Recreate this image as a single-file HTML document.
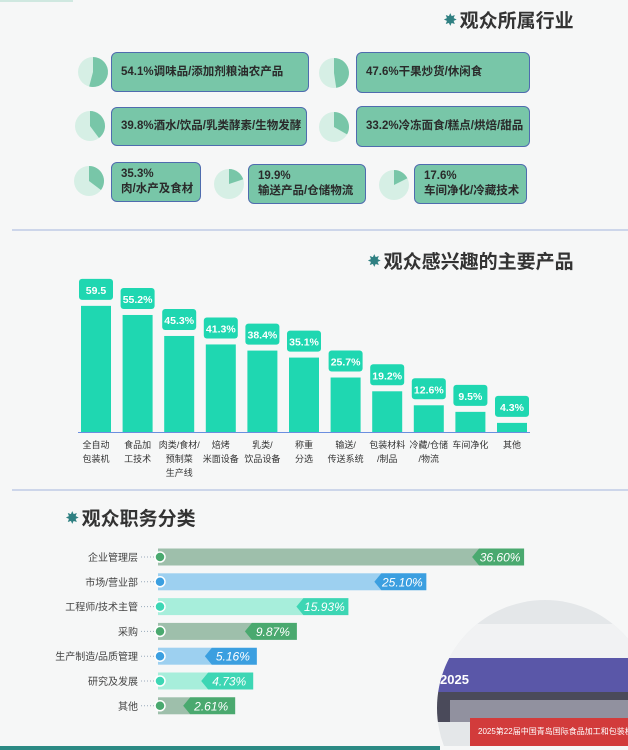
<!DOCTYPE html>
<html><head><meta charset="utf-8">
<style>
html,body{margin:0;width:628px;height:750px;overflow:hidden}
body{background:#f6f7f7;font-family:"Liberation Sans","Noto Sans CJK SC",sans-serif;position:relative}
.abs{position:absolute}
.title{position:absolute;font-size:19px;font-weight:bold;color:#333;white-space:nowrap}
.star{display:inline-block;color:#2f8082;font-size:15px;margin-right:3px;vertical-align:2px}
.box{position:absolute;background:#78c6a8;border:1.5px solid #4f6cae;border-radius:6px;box-sizing:border-box;color:#2a2a2a;font-size:11.5px;font-weight:bold;padding-left:9px;display:flex;flex-direction:column;justify-content:center;line-height:15px;white-space:nowrap;overflow:hidden}
.div{position:absolute;left:12px;right:0;height:2px;background:#cdd6ea}
</style></head><body>
<div class="abs" style="left:0;top:0;width:73px;height:2px;background:#cfe8e0"></div>
<div class="title" style="left:444px;top:6px"><span class="star">✸</span>观众所属行业</div>
<svg id="pies" class="abs" style="left:0;top:0" width="628" height="225"></svg>
<div id="boxes"></div>
<div class="div" style="top:229px"></div>
<div class="title" style="left:368px;top:247px"><span class="star">✸</span>观众感兴趣的主要产品</div>
<svg id="bar" class="abs" style="left:0;top:230px" width="628" height="258"></svg>
<div class="div" style="top:489px"></div>
<div class="title" style="left:66px;top:504px"><span class="star">✸</span>观众职务分类</div>
<svg id="roles" class="abs" style="left:0;top:490px" width="628" height="250"></svg>
<svg class="abs" style="left:430px;top:596px" width="198" height="150">
<defs><clipPath id="cp"><circle cx="115" cy="112" r="108"/></clipPath></defs>
<g clip-path="url(#cp)">
<rect x="0" y="0" width="230" height="230" fill="#e4e7e9"/>
<rect x="0" y="28" width="230" height="34" fill="#f1f2f3"/>
<rect x="0" y="62" width="230" height="34" fill="#5a57a8"/>
<text x="10" y="88" font-size="13" font-weight="bold" fill="#fff">2025</text>
<rect x="0" y="96" width="230" height="30" fill="#4a4a5a"/>
<rect x="20" y="104" width="200" height="22" fill="#d8d8e4" opacity="0.5"/>
<rect x="40" y="122" width="190" height="40" fill="#d23b3b"/>
<text x="48" y="138" font-size="8" fill="#fff">2025第22届中国青岛国际食品加工和包装机械展览会</text>
</g></svg>
<div class="abs" style="left:0;top:746px;width:440px;height:4px;background:#2b8a84"></div>
<script>
const indLabels=["54.1%调味品/添加剂粮油农产品","47.6%干果炒货/休闲食","39.8%酒水/饮品/乳类酵素/生物发酵","33.2%冷冻面食/糕点/烘焙/甜品","35.3%<br>肉/水产及食材","19.9%<br>输送产品/仓储物流","17.6%<br>车间净化/冷藏技术"];
const indValues=[54.1,47.6,39.8,33.2,35.3,19.9,17.6];
const boxPos=[[111,52,198,40,93,72],[356,52,174,41,334,73],[111,107,196,39,90,126],[356,106,174,41,334,127],[111,162,90,40,89,181],[248,164,118,40,229,184],[414,164,113,40,394,185]];
const NS="http://www.w3.org/2000/svg";
const pies=document.getElementById('pies'),boxes=document.getElementById('boxes');
indValues.forEach((v,i)=>{const p=boxPos[i],r=15,cx=p[4],cy=p[5];
 const c=document.createElementNS(NS,'circle');c.setAttribute('cx',cx);c.setAttribute('cy',cy);c.setAttribute('r',r);c.setAttribute('fill','#d6efe5');
 
 pies.appendChild(c);
 const a=v/100*2*Math.PI,x=cx+r*Math.sin(a),y=cy-r*Math.cos(a);
 const pa=document.createElementNS(NS,'path');pa.setAttribute('d',`M${cx},${cy}L${cx},${cy-r}A${r},${r} 0 ${v>50?1:0} 1 ${x},${y}Z`);pa.setAttribute('fill','#78c6a8');
 
 pies.appendChild(pa);
 const b=document.createElement('div');b.className='box';b.style.left=p[0]+'px';b.style.top=p[1]+'px';b.style.width=p[2]+'px';b.style.height=p[3]+'px';b.innerHTML=indLabels[i];
 
 boxes.appendChild(b);});

const cats=[["全自动","包装机"],["食品加","工技术"],["肉类/食材/","预制菜","生产线"],["焙烤","米面设备"],["乳类/","饮品设备"],["称重","分选"],["输送/","传送系统"],["包装材料","/制品"],["冷藏/仓储","/物流"],["车间净化"],["其他"]];
const vals=[59.5,55.2,45.3,41.3,38.4,35.1,25.7,19.2,12.6,9.5,4.3];
const valLabels=["59.5","55.2%","45.3%","41.3%","38.4%","35.1%","25.7%","19.2%","12.6%","9.5%","4.3%"];
const bar=document.getElementById('bar');const base=202,k=2.12;
const xs=i=>81+i*41.6;
const bl=document.createElementNS(NS,'line');bl.setAttribute('x1',78);bl.setAttribute('x2',530);bl.setAttribute('y1',base+.5);bl.setAttribute('y2',base+.5);bl.setAttribute('stroke','#6b8ee0');

bar.appendChild(bl);
vals.forEach((v,i)=>{const x=xs(i),h=v*k;
 const r=document.createElementNS(NS,'rect');r.setAttribute('x',x);r.setAttribute('y',base-h);r.setAttribute('width',30);r.setAttribute('height',h);r.setAttribute('fill','#1fd7b1');
 
 bar.appendChild(r);
 const lb=document.createElementNS(NS,'rect');lb.setAttribute('x',x-2);lb.setAttribute('y',base-h-27);lb.setAttribute('width',34);lb.setAttribute('height',21);lb.setAttribute('rx',3);lb.setAttribute('fill','#1fd7b1');
 
 bar.appendChild(lb);
 const t=document.createElementNS(NS,'text');t.setAttribute('x',x+15);t.setAttribute('y',base-h-12);t.setAttribute('text-anchor','middle');t.setAttribute('font-size',10.5);t.setAttribute('font-weight','bold');t.setAttribute('fill','#fff');t.textContent=valLabels[i];
 
 bar.appendChild(t);
 cats[i].forEach((s,j)=>{const c=document.createElementNS(NS,'text');c.setAttribute('x',x+15);c.setAttribute('y',base+16+j*14);c.setAttribute('text-anchor','middle');c.setAttribute('font-size',9);c.setAttribute('fill','#333');c.textContent=s;
 
 bar.appendChild(c);});});

const roles=["企业管理层","市场/营业部","工程师/技术主管","采购","生产制造/品质管理","研究及发展","其他"];
const roleVals=[36.60,25.10,15.93,9.87,5.16,4.73,2.61];
const roleLabels=["36.60%","25.10%","15.93%","9.87%","5.16%","4.73%","2.61%"];
const bodyC=["#9ebfab","#9dd0f0","#a7eedb"],tagC=["#4aa96f","#3b9fe0","#3dd6b4"];
const rs=document.getElementById('roles');
roleVals.forEach((v,i)=>{const y=67+i*24.8,x0=158,w=10+v*8.5,ci=i%3;
 const l=document.createElementNS(NS,'text');l.setAttribute('x',138);l.setAttribute('y',y+4);l.setAttribute('text-anchor','end');l.setAttribute('font-size',10);l.setAttribute('fill','#444');l.textContent=roles[i];
 
 rs.appendChild(l);
 const d=document.createElementNS(NS,'line');d.setAttribute('x1',141);d.setAttribute('x2',156);d.setAttribute('y1',y);d.setAttribute('y2',y);d.setAttribute('stroke','#9ab');d.setAttribute('stroke-dasharray','1 2');
 
 rs.appendChild(d);
 const b=document.createElementNS(NS,'rect');b.setAttribute('x',x0);b.setAttribute('y',y-8.5);b.setAttribute('width',w);b.setAttribute('height',17);b.setAttribute('fill',bodyC[ci]);
 
 rs.appendChild(b);
 const g=document.createElementNS(NS,'path');const tx=x0+w;g.setAttribute('d',`M${tx},${y-8.5}h45v17h-45l-7,-8.5z`);g.setAttribute('fill',tagC[ci]);
 
 rs.appendChild(g);
 const t=document.createElementNS(NS,'text');t.setAttribute('x',tx+21);t.setAttribute('y',y+4.5);t.setAttribute('text-anchor','middle');t.setAttribute('font-size',12);t.setAttribute('font-style','italic');t.setAttribute('fill','#fff');t.textContent=roleLabels[i];
 
 rs.appendChild(t);
 const c=document.createElementNS(NS,'circle');c.setAttribute('cx',x0+2);c.setAttribute('cy',y);c.setAttribute('r',5);c.setAttribute('fill',tagC[ci]);c.setAttribute('stroke','#fff');c.setAttribute('stroke-width',1.5);
 
 rs.appendChild(c);});
</script>
</body></html>
